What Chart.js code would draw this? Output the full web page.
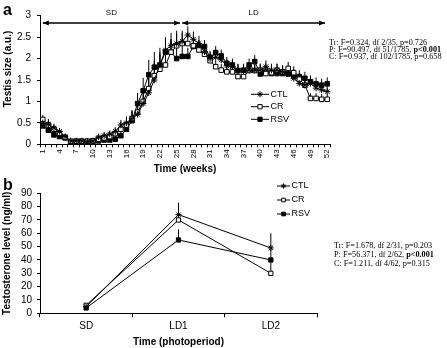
<!DOCTYPE html>
<html>
<head>
<meta charset="utf-8">
<script src="https://cdn.jsdelivr.net/npm/chart.js@4/dist/chart.umd.min.js"></script>
<style>
  html, body { margin: 0; padding: 0; background: #fff; }
  body { width: 447px; height: 348px; position: relative; overflow: hidden; font-family: 'Liberation Sans', Arial, sans-serif; }
  canvas { position: absolute; left: 0; }
  .panel { position: absolute; font-weight: bold; font-size: 16px; line-height: 16px; }
  .stats { position: absolute; font-family: 'Liberation Serif', 'Times New Roman', serif; font-size: 8.2px; white-space: nowrap; color: #000; }
  .ytitle { position: absolute; font-weight: bold; font-size: 10px; white-space: nowrap; transform: translate(-50%, -50%) rotate(-90deg); }
</style>
</head>
<body>
<canvas id="chartA" width="447" height="175" style="top:0"></canvas>
<canvas id="chartB" width="447" height="173" style="top:175px"></canvas>
<div class="panel" style="left:3px; top:2px">a</div>
<div class="panel" style="left:3px; top:177px">b</div>
<div class="ytitle" style="left:6.5px; top:68.5px">Testis size (a.u.)</div>
<div class="stats" style="left:329px; top:38.5px; line-height:7px">Tr: F=0.324, df 2/35, p=0.726<br>P: F=90.497, df 51/1785, <b>p&lt;0.001</b><br>C: F=0.937, df 102/1785, p=0.658</div>
<div class="stats" style="left:334px; top:240.5px; line-height:9px">Tr: F=1.678, df 2/31, p=0.203<br>P: F=56.371, df 2/62, <b>p&lt;0.001</b><br>C: F=1.211, df 4/62, p=0.315</div>
<script>
// panel a: testis size by week
const weeks = ['1','2','3','4','5','6','7','8','9','10','11','12','13','14','15','16','17','18','19','20',
  '21','22','23','24','25','26','27','28','29','30','31','32','33','34','35','36','37','38','39','40',
  '41','42','43','44','45','46','47','48','49','50','51','52'];

const ctlSize = [0.50,0.47,0.38,0.30,0.18,0.08,0.08,0.08,0.06,0.08,0.17,0.20,0.24,0.30,0.45,0.50,0.60,0.70,0.95,1.20,
  1.50,1.85,2.20,2.30,2.35,2.40,2.55,2.45,2.35,2.16,2.00,2.03,1.97,1.83,1.81,1.73,1.71,1.73,1.73,1.73,
  1.81,1.73,1.73,1.69,1.65,1.54,1.42,1.38,1.42,1.31,1.27,1.23];
const crSize = [0.58,0.45,0.35,0.26,0.16,0.07,0.07,0.07,0.07,0.08,0.12,0.15,0.18,0.25,0.35,0.45,0.60,0.75,1.00,1.30,
  1.60,1.75,1.85,2.15,2.30,2.35,2.35,2.30,2.20,2.10,1.95,1.81,1.73,1.69,1.69,1.58,1.58,1.72,1.72,1.73,
  1.65,1.67,1.73,1.69,1.77,1.67,1.52,1.38,1.07,1.07,1.05,1.05];
const rsvSize = [0.43,0.33,0.22,0.18,0.15,0.06,0.07,0.07,0.07,0.07,0.08,0.10,0.10,0.12,0.20,0.35,0.55,0.95,1.25,1.62,
  1.80,1.85,2.15,2.15,2.00,2.05,2.05,2.28,2.28,2.28,2.03,2.14,2.06,1.89,1.85,1.72,1.73,1.85,1.93,1.64,
  1.69,1.65,1.65,1.65,1.64,1.60,1.58,1.54,1.46,1.41,1.38,1.41];

// upper error bars (SEM)
const ctlSizeErr = [0.12,0.12,0.10,0.08,0.06,0.03,0.03,0.03,0.03,0.04,0.08,0.08,0.08,0.10,0.12,0.15,0.20,0.25,0.30,0.35,
  0.40,0.40,0.30,0.30,0.30,0.25,0.20,0.18,0.18,0.15,0.15,0.15,0.15,0.15,0.15,0.15,0.15,0.15,0.15,0.15,
  0.15,0.15,0.15,0.15,0.15,0.15,0.15,0.15,0.15,0.15,0.15,0.15];
const crSizeErr = [0.10,0.10,0.08,0.07,0.05,0.03,0.03,0.03,0.03,0.03,0.06,0.06,0.07,0.08,0.10,0.12,0.18,0.22,0.28,0.30,
  0.35,0.35,0.30,0.30,0.28,0.25,0.20,0.18,0.15,0.15,0.15,0.15,0.15,0.15,0.15,0.15,0.15,0.15,0.15,0.15,
  0.15,0.15,0.15,0.15,0.15,0.15,0.15,0.15,0.12,0.12,0.12,0.12];
const rsvSizeErr = [0.10,0.10,0.08,0.07,0.05,0.03,0.03,0.03,0.03,0.03,0.05,0.05,0.06,0.08,0.10,0.15,0.20,0.25,0.30,0.35,
  0.35,0.30,0.30,0.30,0.30,0.25,0.20,0.15,0.15,0.15,0.15,0.15,0.15,0.15,0.15,0.15,0.15,0.15,0.15,0.15,
  0.15,0.15,0.15,0.15,0.15,0.15,0.15,0.15,0.15,0.15,0.15,0.15];

// panel b: testosterone by photoperiod
const periods = ['SD', 'LD1', 'LD2'];
const ctlT = [5, 74, 49];
const crT = [6, 70, 30];
const rsvT = [4, 55, 40];
const ctlTErr = [1, 9, 11];
const crTErr = [1, 3, 10];
const rsvTErr = [1, 8, 9];

const seriesNames = ['CTL', 'CR', 'RSV'];

Chart.defaults.font.family = "'Liberation Sans', Arial, sans-serif";
Chart.defaults.color = '#000';

function drawMarker(ctx, style, x, y, r, fill) {
  ctx.save();
  ctx.strokeStyle = '#000';
  ctx.lineWidth = 1;
  ctx.beginPath();
  if (style === 'star') {
    const d = r * Math.SQRT1_2;
    ctx.moveTo(x, y - r); ctx.lineTo(x, y + r);
    ctx.moveTo(x - r, y); ctx.lineTo(x + r, y);
    ctx.moveTo(x - d, y - d); ctx.lineTo(x + d, y + d);
    ctx.moveTo(x - d, y + d); ctx.lineTo(x + d, y - d);
    ctx.stroke();
  } else {
    const s = r * Math.SQRT1_2;
    ctx.rect(x - s, y - s, 2 * s, 2 * s);
    ctx.fillStyle = fill;
    ctx.fill();
    ctx.stroke();
  }
  ctx.restore();
}

// vertical upward error bars, drawn under the points
const errorBars = {
  id: 'errorBars',
  beforeDatasetsDraw(chart) {
    const ctx = chart.ctx;
    const yScale = chart.scales.y;
    ctx.save();
    ctx.strokeStyle = '#000';
    ctx.lineWidth = 1;
    chart.data.datasets.forEach((ds, i) => {
      const meta = chart.getDatasetMeta(i);
      ds.data.forEach((v, j) => {
        const x = meta.data[j].x;
        ctx.beginPath();
        ctx.moveTo(x, yScale.getPixelForValue(v));
        ctx.lineTo(x, yScale.getPixelForValue(v + ds.errUp[j]));
        ctx.stroke();
      });
    });
    ctx.restore();
  }
};

// free-floating legend
const sideLegend = {
  id: 'sideLegend',
  afterDraw(chart, args, opts) {
    const ctx = chart.ctx;
    ctx.save();
    ctx.font = opts.fontSize + "px 'Liberation Sans', Arial, sans-serif";
    ctx.textBaseline = 'middle';
    chart.data.datasets.forEach((ds, i) => {
      const y = opts.ys[i];
      ctx.strokeStyle = '#000';
      ctx.lineWidth = 1;
      ctx.beginPath();
      ctx.moveTo(opts.x0, y);
      ctx.lineTo(opts.x1, y);
      ctx.stroke();
      drawMarker(ctx, ds.pointStyle, (opts.x0 + opts.x1) / 2, y, opts.r, ds.pointBackgroundColor);
      ctx.fillStyle = '#000';
      ctx.fillText(ds.label, opts.x1 + 1.5, y);
    });
    ctx.restore();
  }
};

// SD / LD arrows on panel a
const phaseArrows = {
  id: 'phaseArrows',
  afterDraw(chart, args, opts) {
    if (!opts.phases) return;
    const ctx = chart.ctx;
    const xs = chart.scales.x, ys = chart.scales.y;
    ctx.save();
    ctx.strokeStyle = '#000';
    ctx.fillStyle = '#000';
    ctx.lineWidth = 1.3;
    ctx.font = "8px 'Liberation Sans', Arial, sans-serif";
    ctx.textAlign = 'center';
    ctx.textBaseline = 'middle';
    const y = ys.getPixelForValue(opts.level);
    const ty = ys.getPixelForValue(opts.labelLevel);
    opts.phases.forEach(p => {
      const a = xs.getPixelForValue(p.from), b = xs.getPixelForValue(p.to);
      ctx.beginPath();
      ctx.moveTo(a, y); ctx.lineTo(b, y);
      ctx.stroke();
      [[a, 1], [b, -1]].forEach(([x, dir]) => {
        ctx.beginPath();
        ctx.moveTo(x, y);
        ctx.lineTo(x + dir * 6, y - 2.5);
        ctx.lineTo(x + dir * 6, y + 2.5);
        ctx.closePath();
        ctx.fill();
      });
      ctx.fillText(p.label, (a + b) / 2, ty);
    });
    ctx.restore();
  }
};

function makeSet(name, data, err, style, fill, r) {
  return {
    label: name, data: data, errUp: err,
    borderColor: '#000', borderWidth: 1,
    pointStyle: style, pointRadius: r, pointHoverRadius: r,
    pointBorderColor: '#000', pointBackgroundColor: fill, pointBorderWidth: 1,
    tension: 0
  };
}

new Chart(document.getElementById('chartA'), {
  type: 'line',
  data: {
    labels: weeks,
    datasets: [
      makeSet(seriesNames[0], ctlSize, ctlSizeErr, 'star', '#000', 3.2),
      makeSet(seriesNames[1], crSize, crSizeErr, 'rect', '#fff', 3.2),
      makeSet(seriesNames[2], rsvSize, rsvSizeErr, 'rect', '#000', 3.2)
    ]
  },
  options: {
    responsive: false,
    animation: false,
    devicePixelRatio: 1,
    layout: { padding: { left: 0, right: 117, top: 15.7, bottom: 0 } },
    plugins: {
      legend: { display: false },
      tooltip: { enabled: false },
      sideLegend: { x0: 251, x1: 269, ys: [94.3, 106.7, 119.3], r: 3, fontSize: 9 },
      phaseArrows: {
        level: 2.83, labelLevel: 3.07,
        phases: [{ label: 'SD', from: 0, to: 24.6 }, { label: 'LD', from: 25.0, to: 50.6 }]
      }
    },
    scales: {
      x: {
        type: 'category',
        offset: true,
        grid: { offset: true, drawOnChartArea: false, tickLength: 3, color: '#000' },
        border: { color: '#000' },
        ticks: {
          autoSkip: false, minRotation: 90, maxRotation: 90, padding: 2,
          font: { size: 8 }, color: '#000',
          callback: (v, i) => (i % 3 === 0 ? weeks[i] : '')
        },
        title: { display: true, text: 'Time (weeks)', font: { size: 10, weight: 'bold' }, color: '#000', padding: { top: 0, bottom: 0 } },
        afterFit: s => { s.height = 30.7; }
      },
      y: {
        min: 0, max: 3,
        grid: { drawOnChartArea: false, tickLength: 3, color: '#000' },
        border: { color: '#000' },
        ticks: { stepSize: 0.5, autoSkip: false, padding: 6, font: { size: 10 }, color: '#000', callback: v => String(v) },
        afterFit: s => { s.width = 40; }
      }
    }
  },
  plugins: [errorBars, sideLegend, phaseArrows]
});

new Chart(document.getElementById('chartB'), {
  type: 'line',
  data: {
    labels: periods,
    datasets: [
      makeSet(seriesNames[0], ctlT, ctlTErr, 'star', '#000', 3),
      makeSet(seriesNames[1], crT, crTErr, 'rect', '#fff', 3),
      makeSet(seriesNames[2], rsvT, rsvTErr, 'rect', '#000', 3)
    ]
  },
  options: {
    responsive: false,
    animation: false,
    devicePixelRatio: 1,
    layout: { padding: { left: 0, right: 130, top: 18.3, bottom: 0 } },
    plugins: {
      legend: { display: false },
      tooltip: { enabled: false },
      sideLegend: { x0: 277, x1: 290, ys: [11, 25, 39], r: 2.6, fontSize: 9 },
      phaseArrows: {}
    },
    scales: {
      x: {
        type: 'category',
        offset: true,
        grid: { offset: true, drawOnChartArea: false, tickLength: 4, color: '#000' },
        border: { color: '#000' },
        ticks: { padding: 3, font: { size: 10 }, color: '#000' },
        title: { display: true, text: 'Time (photoperiod)', font: { size: 10, weight: 'bold' }, color: '#000', padding: { top: 0, bottom: 0 } },
        afterFit: s => { s.height = 34.7; }
      },
      y: {
        min: 0, max: 90,
        grid: { drawOnChartArea: false, tickLength: 3, color: '#000' },
        border: { color: '#000' },
        ticks: { stepSize: 10, autoSkip: false, padding: 5, font: { size: 10 }, color: '#000', callback: v => String(v) },
        title: { display: true, text: 'Testosterone level (ng/ml)', font: { size: 10, weight: 'bold' }, color: '#000', padding: { top: 1, bottom: 0 } },
        afterFit: s => { s.width = 40; }
      }
    }
  },
  plugins: [errorBars, sideLegend, phaseArrows]
});
</script>
</body>
</html>
